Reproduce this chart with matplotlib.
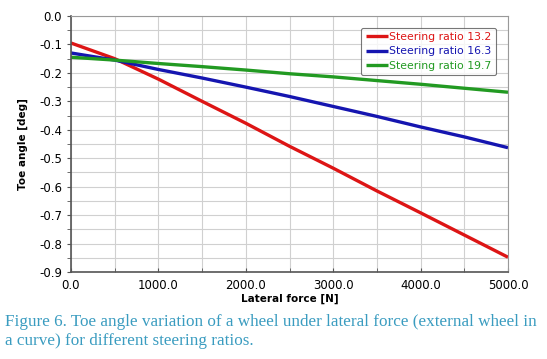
import matplotlib
matplotlib.use("Agg")
import matplotlib.pyplot as plt
from matplotlib.ticker import MultipleLocator, FormatStrFormatter

force = [0, 500, 1000, 1500, 2000, 2500, 3000, 3500, 4000, 4500, 5000]
toe_132 = [-0.095, -0.150, -0.222, -0.300, -0.377, -0.458, -0.535, -0.615, -0.692, -0.770, -0.848]
toe_163 = [-0.130, -0.155, -0.188, -0.218, -0.250, -0.283, -0.318, -0.353, -0.390, -0.425, -0.463]
toe_197 = [-0.145, -0.155, -0.167, -0.178, -0.190, -0.203, -0.214, -0.227, -0.240, -0.254, -0.268]
labels = ["Steering ratio 13.2", "Steering ratio 16.3", "Steering ratio 19.7"]
colors = ["#dd1515", "#1515b0", "#229a22"]

fig = plt.figure(figsize=(5.47, 3.59), dpi=100)
ax = fig.add_axes([71/547, 1-272/359, (508-71)/547, (272-16)/359])

for y, lab, c in zip([toe_132, toe_163, toe_197], labels, colors):
    ax.plot(force, y, color=c, lw=2.4, label=lab, solid_capstyle="butt")

ax.set_xlim(0, 5000)
ax.set_ylim(-0.9, 0.0)
ax.xaxis.set_major_locator(MultipleLocator(1000))
ax.xaxis.set_minor_locator(MultipleLocator(500))
ax.yaxis.set_major_locator(MultipleLocator(0.1))
ax.yaxis.set_minor_locator(MultipleLocator(0.05))
ax.xaxis.set_major_formatter(FormatStrFormatter("%.1f"))
ax.yaxis.set_major_formatter(FormatStrFormatter("%.1f"))
ax.grid(which="both", color="#d0d0d0", lw=0.8)
ax.set_axisbelow(True)
ax.tick_params(which="both", labelsize=8.5, color="#555555", length=3, direction="out")
ax.tick_params(axis="x", which="both", direction="in", pad=5)
for s in ["left", "bottom"]:
    ax.spines[s].set_color("#555555")
    ax.spines[s].set_linewidth(1.2)
for s in ["top", "right"]:
    ax.spines[s].set_color("#999999")
    ax.spines[s].set_linewidth(0.8)

ax.set_xlabel("Lateral force [N]", fontsize=7.5, fontweight="bold")
ax.xaxis.set_label_coords(0.5, -0.085)
ax.set_ylabel("Toe angle [deg]", fontsize=7.5, fontweight="bold", labelpad=8)

leg = ax.legend(loc="upper right", fontsize=7.8, frameon=True, handlelength=2.1,
                handletextpad=0.1, borderpad=0.4, labelspacing=0.4,
                bbox_to_anchor=(0.985, 0.975), fancybox=True)
leg.get_frame().set_edgecolor("#555555")
leg.get_frame().set_linewidth(0.8)
for t, c in zip(leg.get_texts(), colors):
    t.set_color(c)

fig.text(5/547, 1-322/359, "Figure 6. Toe angle variation of a wheel under lateral force (external wheel in",
         fontsize=12.3, family="Liberation Serif", color="#3a9cc0", va="center")
fig.text(5/547, 1-341/359, "a curve) for different steering ratios.",
         fontsize=12.3, family="Liberation Serif", color="#3a9cc0", va="center")

fig.savefig("out.png", dpi=100)
